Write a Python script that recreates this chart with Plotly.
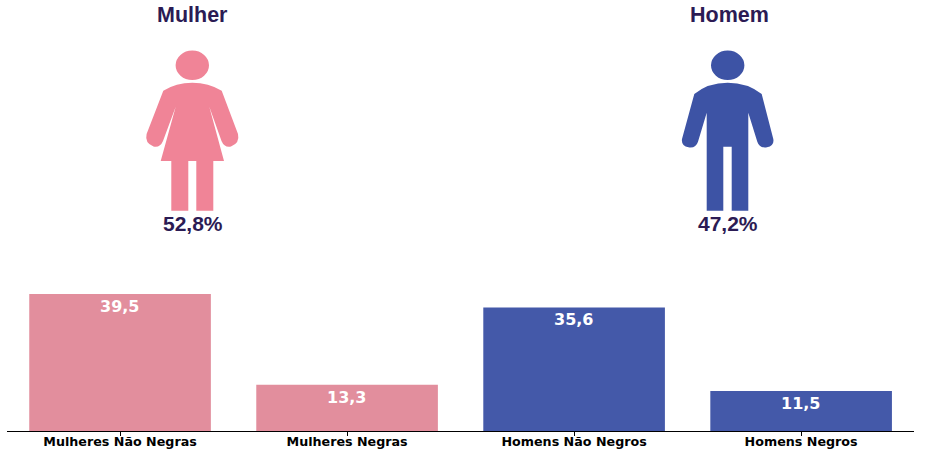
import plotly.graph_objects as go

categories = ["Mulheres Não Negras", "Mulheres Negras", "Homens Não Negros", "Homens Negros"]
values = [39.5, 13.3, 35.6, 11.5]
bar_colors = ["#E28E9D", "#E28E9D", "#4459A9", "#4459A9"]
group_labels = ["Mulher", "Homem"]
group_shares = ["52,8%", "47,2%"]
W, H = 928, 454
INK = "#2B1B54"
PINK = "#F08497"
BLUE = "#3D53A5"

WOMAN = ("M163.3 90.7 Q176 82.7 192.3 82.7 Q208.6 82.7 221.7 90.7 L238 134 "
         "Q240 143 231 146.5 Q224.5 148 221.5 141 L209.3 106.7 L224 161 L213.3 161 L213.3 210.7 "
         "L196.3 210.7 L196.3 161 L188.3 161 L188.3 210.7 L171.3 210.7 L171.3 161 L160.7 161 "
         "L175.7 106.7 L163 141 Q160 148 153.5 146.5 Q144.5 143 146.6 134 Z")
MAN = ("M694.3 94 Q708 82.7 727.7 82.7 Q747.4 82.7 761.7 94 L773.3 139 Q774.5 146 767 147.3 "
       "Q759.5 148.5 757.3 141.7 L748.3 112.7 L748.3 210.7 L731.7 210.7 L731.7 146.7 L723.3 146.7 "
       "L723.3 210.7 L706.7 210.7 L706.7 112.7 L698 141.7 Q695.8 148.5 688.5 147.3 Q681 146 682 139 Z")

fig = go.Figure()
fig.add_bar(x=list(range(len(categories))), y=values, marker=dict(color=bar_colors, line_width=0),
            width=0.8, hoverinfo="skip", showlegend=False)

shapes = []
for path, color in [(WOMAN, PINK), (MAN, BLUE)]:
    shapes.append(dict(type="path", path=path, xref="x2", yref="y2", fillcolor=color, line_width=0))
for cx, color in [(192.3, PINK), (727.7, BLUE)]:
    shapes.append(dict(type="circle", xref="x2", yref="y2", x0=cx - 16.7, x1=cx + 16.7,
                       y0=50.6, y1=80, fillcolor=color, line_width=0))

annotations = []
for i, v in enumerate(values):
    annotations.append(dict(x=i, y=v, xref="x", yref="y", yshift=-12.5, xshift=-0.6, showarrow=False,
                            text=f"<b>{v:.1f}</b>".replace(".", ","),
                            font=dict(family="DejaVu Sans", size=16, color="white")))
for cx, label in zip([192, 729], group_labels):
    annotations.append(dict(x=cx, y=15, xref="x2", yref="y2", showarrow=False, text=f"<b>{label}</b>",
                            font=dict(family="Liberation Sans", size=21.5, color=INK)))
for cx, share in zip([193, 728], group_shares):
    annotations.append(dict(x=cx, y=223.5, xref="x2", yref="y2", showarrow=False, text=f"<b>{share}</b>",
                            font=dict(family="Liberation Sans", size=21, color=INK)))

fig.update_layout(
    width=W, height=H, margin=dict(l=0, r=0, t=0, b=0), autosize=False,
    paper_bgcolor="white", plot_bgcolor="rgba(0,0,0,0)", showlegend=False,
    shapes=shapes, annotations=annotations,
    xaxis=dict(domain=[7 / W, 913.5 / W], range=[-0.498, 3.495], tickmode="array",
               tickvals=list(range(len(categories))), ticktext=[f"<b>{c}</b>" for c in categories],
               tickfont=dict(family="DejaVu Sans", size=12.7, color="black"),
               ticks="outside", ticklen=3.5, tickwidth=1, tickcolor="black", ticklabelstandoff=-5,
               showline=True, linecolor="black", linewidth=1, showgrid=False, zeroline=False),
    yaxis=dict(domain=[(H - 431) / H, (H - 285) / H], range=[0, 42.07], visible=False, showgrid=False),
    xaxis2=dict(domain=[0, 1], range=[0, W], visible=False, anchor="y2"),
    yaxis2=dict(domain=[0, 1], range=[H, 0], visible=False, anchor="x2"),
)
fig.add_scatter(x=[0], y=[0], xaxis="x2", yaxis="y2", mode="markers", marker_opacity=0,
                hoverinfo="skip", showlegend=False)
fig.write_html("out.html", config={"displayModeBar": False},
               post_script="document.body.style.margin='0';")
